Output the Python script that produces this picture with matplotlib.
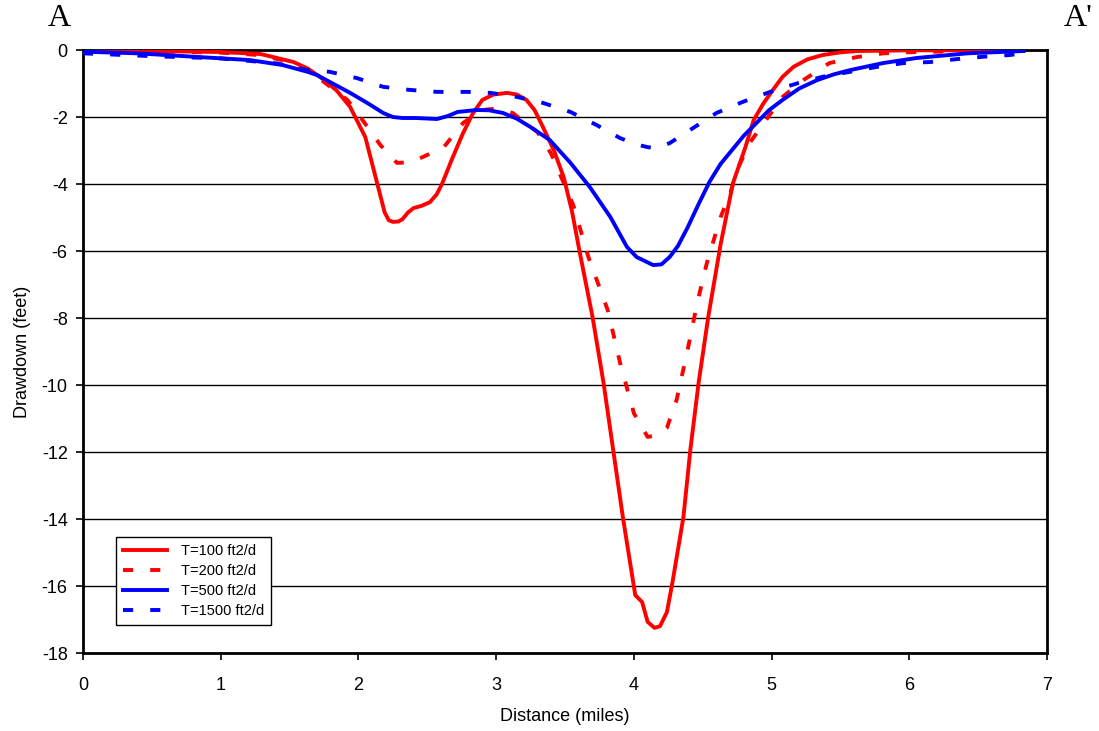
import matplotlib
matplotlib.use("Agg")
from matplotlib import pyplot as plt

plt.rcParams['font.family'] = ['Liberation Sans', 'DejaVu Sans']
plt.rcParams['axes.unicode_minus'] = False

# T=100 ft2/d
x_t100 = [0.0, 0.5, 1.0, 1.29, 1.53, 1.63, 1.72, 1.84, 1.94, 2.05, 2.13, 2.19, 2.22, 2.25, 2.29,
          2.32, 2.36, 2.40, 2.46, 2.52, 2.57, 2.61, 2.68, 2.76, 2.83, 2.90, 2.98, 3.08, 3.15,
          3.22, 3.28, 3.34, 3.42, 3.49, 3.55, 3.61, 3.70, 3.78, 3.85, 3.92, 4.01, 4.06, 4.10,
          4.15, 4.19, 4.24, 4.28, 4.36, 4.41, 4.47, 4.54, 4.63, 4.72, 4.81, 4.87, 4.94, 5.01,
          5.08, 5.16, 5.26, 5.37, 5.50, 5.62, 6.0, 6.5, 6.82]
y_t100 = [-0.02, -0.03, -0.06, -0.12, -0.36, -0.55, -0.8, -1.2, -1.7, -2.6, -3.88, -4.84, -5.08,
          -5.13, -5.12, -5.05, -4.85, -4.72, -4.65, -4.54, -4.3, -3.97, -3.25, -2.48, -1.9,
          -1.49, -1.33, -1.28, -1.33, -1.49, -1.8, -2.3, -3.0, -3.79, -4.8, -6.1, -7.97, -9.94,
          -11.94, -13.94, -16.27, -16.48, -17.07, -17.25, -17.2, -16.78, -15.9, -13.94, -11.94,
          -9.94, -7.97, -5.8, -3.97, -2.9, -2.09, -1.6, -1.19, -0.8, -0.5, -0.28, -0.15, -0.07,
          -0.03, -0.01, -0.01, -0.01]

# T=200 ft2/d
x_t200 = [0.0, 0.5, 1.0, 1.28, 1.50, 1.70, 1.92, 2.03, 2.16, 2.28, 2.38, 2.47, 2.62, 2.76, 2.90,
          3.0, 3.12, 3.30, 3.40, 3.56, 3.67, 3.81, 3.90, 4.00, 4.10, 4.17, 4.24, 4.31, 4.39,
          4.46, 4.53, 4.63, 4.70, 4.75, 4.84, 4.97, 5.08, 5.23, 5.42, 5.62, 5.81, 6.05, 6.5, 6.82]
y_t200 = [-0.02, -0.04, -0.08, -0.15, -0.35, -0.8, -1.49, -2.09, -2.84, -3.37, -3.35, -3.19, -2.9,
          -2.18, -1.79, -1.75, -1.88, -2.45, -3.1, -4.63, -6.18, -7.76, -9.34, -10.84, -11.55,
          -11.5, -11.28, -10.45, -8.96, -7.55, -6.36, -4.99, -4.27, -3.58, -2.78, -2.03, -1.40,
          -0.9, -0.39, -0.21, -0.1, -0.06, -0.03, -0.02]

# T=500 ft2/d
x_t500 = [0.0, 0.4, 0.80, 1.21, 1.45, 1.63, 1.70, 1.94, 2.08, 2.18, 2.25, 2.32, 2.42, 2.57, 2.65,
          2.72, 2.86, 2.95, 3.05, 3.15, 3.25, 3.39, 3.54, 3.68, 3.83, 3.95, 4.02, 4.08, 4.14, 4.20,
          4.26, 4.32, 4.39, 4.47, 4.55, 4.63, 4.72, 4.80, 4.89, 4.98, 5.08, 5.20, 5.33, 5.45,
          5.57, 5.81, 6.05, 6.42, 6.83]
y_t500 = [-0.05, -0.1, -0.2, -0.3, -0.45, -0.65, -0.75, -1.28, -1.62, -1.88, -2.0, -2.03, -2.03,
          -2.06, -1.97, -1.85, -1.79, -1.8, -1.88, -2.05, -2.3, -2.69, -3.37, -4.09, -4.99, -5.88,
          -6.18, -6.3, -6.42, -6.4, -6.18, -5.85, -5.3, -4.6, -3.93, -3.4, -2.95, -2.55, -2.18,
          -1.8, -1.49, -1.15, -0.9, -0.73, -0.6, -0.39, -0.24, -0.1, -0.03]

# T=1500 ft2/d
x_t1500 = [0.0, 0.3, 0.61, 1.0, 1.41, 1.63, 1.79, 1.99, 2.18, 2.37, 2.57, 2.79, 2.96, 3.15,
           3.34, 3.54, 3.73, 3.90, 4.02, 4.10, 4.16, 4.26, 4.43, 4.60, 4.79, 4.99, 5.19, 5.37, 5.57,
           5.77, 5.96, 6.15, 6.35, 6.54, 6.73, 6.82]
y_t1500 = [-0.1, -0.15, -0.2, -0.25, -0.4, -0.6, -0.65, -0.84, -1.1, -1.19, -1.25, -1.25, -1.28,
           -1.40, -1.58, -1.85, -2.24, -2.63, -2.82, -2.9, -2.93, -2.78, -2.33, -1.88, -1.55, -1.25,
           -0.99, -0.8, -0.65, -0.5, -0.39, -0.36, -0.27, -0.2, -0.15, -0.1]

labels = ["T=100 ft2/d", "T=200 ft2/d", "T=500 ft2/d", "T=1500 ft2/d"]
y_ticks = list(range(-18, 1, 2))
x_ticks = list(range(0, 8))

fig = plt.figure(figsize=(10.99, 7.31), dpi=100)
ax = fig.add_axes([0.0755, 0.1067, 0.8772, 0.8249])

for yv in y_ticks:
    ax.axhline(yv, color='black', lw=1.0, zorder=1)

dash = (2.6, 4.4)
lw = 2.8
ax.plot(x_t100, y_t100, color='#ff0000', lw=lw, label=labels[0], zorder=3)
ax.plot(x_t200, y_t200, color='#ff0000', lw=lw, ls=(0, dash), label=labels[1], zorder=3)
ax.plot(x_t500, y_t500, color='#0000ff', lw=lw, label=labels[2], zorder=3)
ax.plot(x_t1500, y_t1500, color='#0000ff', lw=lw, ls=(0, dash), label=labels[3], zorder=3)

ax.set_xlim(0, 7)
ax.set_ylim(-18, 0)
ax.set_xticks(x_ticks)
ax.set_yticks(y_ticks)
ax.tick_params(direction='out', length=5, width=1.2, labelsize=13, colors='black')
ax.tick_params(axis='x', pad=12)
ax.tick_params(axis='y', pad=6)
for s in ax.spines.values():
    s.set_linewidth(2)
    s.set_color('black')

ax.set_xlabel("Distance (miles)", fontsize=13, labelpad=10)
ax.set_ylabel("Drawdown (feet)", fontsize=13, labelpad=8)

leg = ax.legend(loc='lower left', bbox_to_anchor=(0.027, 0.035), fontsize=10.5, frameon=True,
                fancybox=False, edgecolor='black', framealpha=1, handlelength=3.0,
                borderpad=0.45, labelspacing=0.42, handletextpad=1.0)
leg.get_frame().set_linewidth(1.0)

fig.text(59 / 1099, 1 - 19 / 731, "A", family=['Liberation Serif', 'DejaVu Serif'],
         fontsize=23, ha='center', va='center')
fig.text(1078 / 1099, 1 - 19 / 731, "A'", family=['Liberation Serif', 'DejaVu Serif'],
         fontsize=23, ha='center', va='center')

fig.savefig("out.png", dpi=100)
